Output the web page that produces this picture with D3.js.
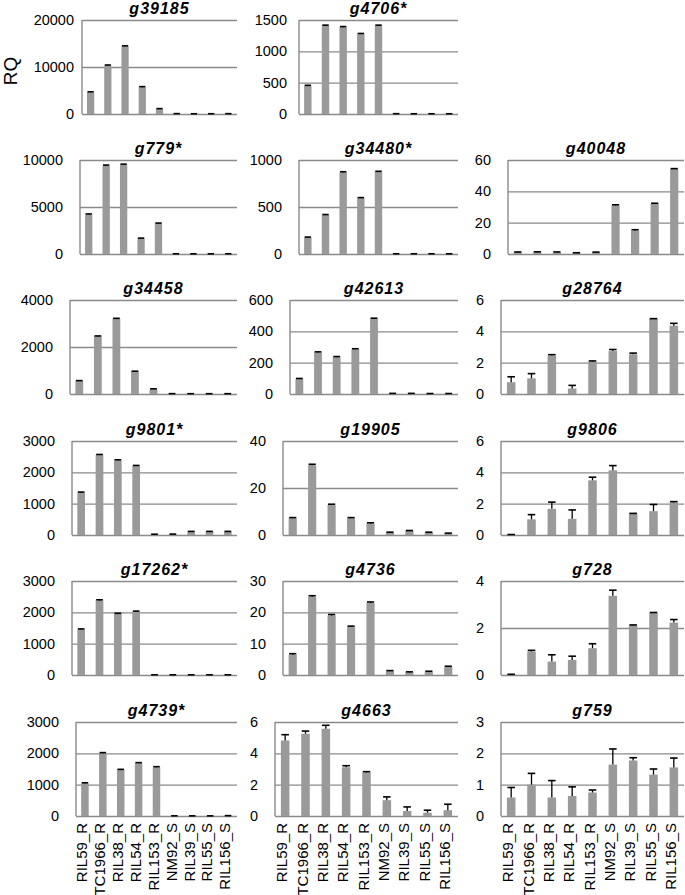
<!DOCTYPE html>
<meta charset="utf-8">
<style>
  body { margin: 0; background: #fff; }
  text { font-family: "Liberation Sans", Arial, sans-serif; fill: #000; }
</style>
<div id="chart"></div>
<script src="https://d3js.org/d3.v7.min.js"></script>
<script>

var categories = ["RIL59_R", "TC1966_R", "RIL38_R", "RIL54_R", "RIL153_R", "NM92_S", "RIL39_S", "RIL55_S", "RIL156_S"];

var genes = ["g39185", "g4706*", "g779*", "g34480*", "g40048",
             "g34458", "g42613", "g28764", "g9801*", "g19905", "g9806",
             "g17262*", "g4736", "g728", "g4739*", "g4663", "g759"];

var yTicks = [
  [0, 10000, 20000], [0, 500, 1000, 1500], [0, 5000, 10000], [0, 500, 1000], [0, 20, 40, 60],
  [0, 2000, 4000], [0, 200, 400, 600], [0, 2, 4, 6], [0, 1000, 2000, 3000], [0, 20, 40], [0, 2, 4, 6],
  [0, 1000, 2000, 3000], [0, 10, 20, 30], [0, 2, 4], [0, 1000, 2000, 3000], [0, 2, 4, 6], [0, 1, 2, 3]
];

// mean RQ per line, one row per gene
var rq = [
  [4600, 10300, 14400, 5700, 1050, 60, 40, 50, 60],
  [450, 1410, 1385, 1275, 1410, 4, 3, 3, 3],
  [4200, 9400, 9500, 1650, 3250, 20, 15, 15, 20],
  [175, 415, 870, 595, 875, 2, 2, 2, 2],
  [1.0, 1.1, 1.0, 0.6, 0.9, 31.0, 15.0, 32.0, 54.2],
  [550, 2450, 3200, 950, 200, 10, 8, 8, 8],
  [95, 265, 235, 285, 480, 3, 3, 2, 2],
  [0.75, 1.0, 2.45, 0.35, 2.06, 2.74, 2.53, 4.79, 4.36],
  [1350, 2550, 2380, 2200, 20, 25, 105, 105, 105],
  [7.1, 29.7, 12.8, 7.1, 4.9, 1.0, 1.7, 1.0, 0.6],
  [0.02, 1.0, 1.67, 1.03, 3.49, 4.13, 1.35, 1.52, 2.08],
  [1450, 2380, 1950, 2020, 5, 5, 5, 5, 5],
  [6.5, 25, 19, 15.3, 23, 1.2, 0.8, 1.0, 2.6],
  [0.02, 1.0, 0.57, 0.64, 1.14, 3.37, 2.11, 2.64, 2.23],
  [1040, 2003, 1469, 1683, 1554, 5, 3, 3, 10],
  [4.82, 5.25, 5.57, 3.11, 2.78, 1.01, 0.32, 0.21, 0.37],
  [0.59, 1.0, 0.59, 0.64, 0.75, 1.64, 1.77, 1.32, 1.55]
];

// error (plus side only)
var err = [
  [120, 120, 100, 120, 100, 20, 10, 10, 10],
  [8, 8, 10, 10, 8, 1, 1, 1, 1],
  [60, 60, 60, 40, 40, 5, 5, 5, 5],
  [5, 5, 5, 5, 5, 0.5, 0.5, 0.5, 0.5],
  [0.3, 0.3, 0.3, 0.2, 0.3, 0.4, 0.5, 0.4, 0.3],
  [20, 20, 20, 20, 20, 5, 5, 5, 5],
  [4, 4, 4, 4, 4, 1, 1, 1, 1],
  [0.35, 0.3, 0.06, 0.2, 0.05, 0.1, 0.08, 0.02, 0.15],
  [20, 20, 20, 20, 5, 5, 10, 10, 10],
  [0.3, 0.4, 0.3, 0.3, 0.3, 0.2, 0.2, 0.2, 0.2],
  [0.01, 0.3, 0.43, 0.57, 0.2, 0.3, 0.03, 0.43, 0.05],
  [20, 20, 20, 20, 2, 2, 2, 2, 2],
  [0.3, 0.3, 0.3, 0.3, 0.3, 0.2, 0.2, 0.2, 0.2],
  [0.01, 0.05, 0.29, 0.16, 0.19, 0.24, 0.02, 0.02, 0.13],
  [20, 20, 20, 20, 20, 2, 2, 2, 2],
  [0.37, 0.17, 0.22, 0.1, 0.05, 0.21, 0.26, 0.16, 0.38],
  [0.32, 0.36, 0.54, 0.29, 0.08, 0.5, 0.09, 0.18, 0.3]
];

// panel layout
var cellRow = [0, 0, 1, 1, 1, 2, 2, 2, 3, 3, 3, 4, 4, 4, 5, 5, 5];
var cellCol = [0, 1, 0, 1, 2, 0, 1, 2, 0, 1, 2, 0, 1, 2, 0, 1, 2];
var rowTop = [20, 160, 300, 441, 581, 722];
var colRight = [237, 458, 684];
var plotLeft = [82, 299, 80, 299, 508, 70, 290, 501, 72, 283, 501, 72, 283, 501, 76, 275, 501];
var labelGap = [8, 12, 17, 17, 17, 17, 17, 17, 17, 17, 17, 17, 17, 17, 17, 17, 17];
var plotH = 94;

var svg = d3.select("#chart")
  .append("svg")
    .attr("width", 685)
    .attr("height", 895);

genes.forEach(function(gene, i) {
  var top = rowTop[cellRow[i]],
      bottom = top + plotH,
      left = plotLeft[i],
      right = colRight[cellCol[i]];

  var x = d3.scaleBand()
    .domain(categories)
    .range([left, right])
    .paddingInner(0.58)
    .paddingOuter(0.29);

  var ticks = yTicks[i];
  var y = d3.scaleLinear()
    .domain([0, ticks[ticks.length - 1]])
    .range([bottom, top]);

  var g = svg.append("g");

  // gridlines + tick labels
  var ax = g.append("g")
    .attr("transform", "translate(" + left + ",0)")
    .call(d3.axisLeft(y).tickValues(ticks).tickSize(-(right - left)).tickPadding(labelGap[i]).tickFormat(d3.format("d")));
  ax.select(".domain").remove();
  ax.selectAll("line").attr("stroke", "#8a8a8a").attr("stroke-width", 1.4);
  ax.selectAll("text")
    .style("font-family", "'Liberation Sans', Arial, sans-serif")
    .style("font-size", "14.5px")
    .attr("fill", "#000");

  // vertical axis line
  g.append("line")
    .attr("x1", left).attr("x2", left)
    .attr("y1", top).attr("y2", bottom)
    .attr("stroke", "#8a8a8a")
    .attr("stroke-width", 1.4);

  var rows = categories.map(function(c, j) { return {cat: c, v: rq[i][j], e: err[i][j]}; });

  g.selectAll("rect.bar")
    .data(rows)
    .enter()
    .append("rect")
      .attr("class", "bar")
      .attr("x", function(d) { return x(d.cat); })
      .attr("y", function(d) { return y(d.v); })
      .attr("width", x.bandwidth())
      .attr("height", function(d) { return bottom - y(d.v); })
      .attr("fill", "#9a9a9a");

  // error bars
  g.selectAll("line.err")
    .data(rows)
    .enter()
    .append("line")
      .attr("class", "err")
      .attr("x1", function(d) { return x(d.cat) + x.bandwidth() / 2; })
      .attr("x2", function(d) { return x(d.cat) + x.bandwidth() / 2; })
      .attr("y1", function(d) { return y(d.v); })
      .attr("y2", function(d) { return y(d.v + d.e); })
      .attr("stroke", "#000")
      .attr("stroke-width", 1.3);

  g.selectAll("line.cap")
    .data(rows)
    .enter()
    .append("line")
      .attr("class", "cap")
      .attr("x1", function(d) { return x(d.cat) + 0.5; })
      .attr("x2", function(d) { return x(d.cat) + x.bandwidth() - 0.5; })
      .attr("y1", function(d) { return y(d.v + d.e); })
      .attr("y2", function(d) { return y(d.v + d.e); })
      .attr("stroke", "#000")
      .attr("stroke-width", 1.6);

  // title
  g.append("text")
    .attr("x", (left + right) / 2)
    .attr("y", top - 6.5)
    .attr("text-anchor", "middle")
    .style("font-size", "16px")
    .style("letter-spacing", "1px")
    .style("font-weight", "bold")
    .style("font-style", "italic")
    .text(gene);

  // category labels on the bottom row only
  if (cellRow[i] === 5) {
    g.selectAll("text.cat")
      .data(categories)
      .enter()
      .append("text")
        .attr("class", "cat")
        .attr("transform", function(d) {
          return "translate(" + (x(d) + x.bandwidth() / 2 - 3) + "," + (bottom + 7) + ")rotate(-90)";
        })
        .attr("dy", "0.35em")
        .attr("text-anchor", "end")
        .style("font-size", "15px")
        .text(function(d) { return d; });
  }
});

// y axis title
svg.append("text")
  .attr("transform", "translate(17,71)rotate(-90)")
  .attr("text-anchor", "middle")
  .style("font-size", "19px")
  .text("RQ");

</script>
